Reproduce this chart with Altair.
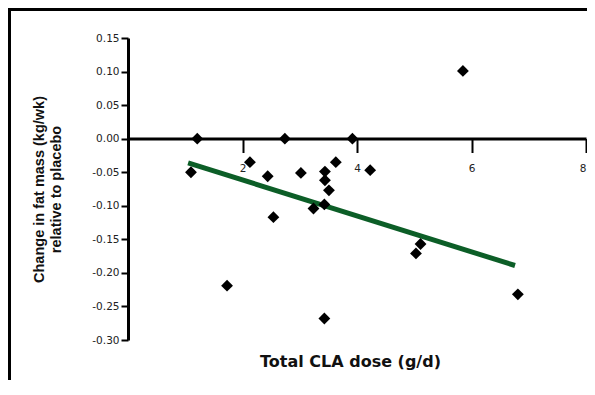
import altair as alt
import pandas as pd

# CLA dose (g/d) and change in fat mass relative to placebo (kg/wk)
dose = [1.10, 1.21, 1.73, 2.13, 2.44, 2.54, 2.74, 3.02, 3.24, 3.43,
        3.44, 3.44, 3.51, 3.43, 3.63, 3.92, 4.23, 5.03, 5.11, 5.85, 6.81]
change = [-0.050, 0.000, -0.219, -0.035, -0.056, -0.117, 0.000, -0.051, -0.104, -0.098,
          -0.049, -0.062, -0.077, -0.268, -0.035, 0.000, -0.047, -0.171, -0.157, 0.101, -0.232]

# regression line end points
fit_x = [1.05, 6.76]
fit_y = [-0.036, -0.189]

x_ticks = [2, 4, 6, 8]
y_ticks = [-0.30, -0.25, -0.20, -0.15, -0.10, -0.05, 0.00, 0.05, 0.10, 0.15]

pts = pd.DataFrame({"dose": dose, "change": change})
fit = pd.DataFrame({"dose": fit_x, "change": fit_y})

xscale = alt.Scale(domain=[0, 8], nice=False, zero=False)
yscale = alt.Scale(domain=[-0.30, 0.15], nice=False, zero=False)

xaxis = alt.Axis(
    values=x_ticks, tickCount=len(x_ticks), offset=-201.5, grid=False, format="d",
    labelOverlap=False,
    domainColor="black", domainWidth=3, tickColor="black", tickWidth=2, tickSize=14,
    labelFont="DejaVu Sans", labelFontSize=10.5, labelColor="#222", labelPadding=11,
    title="Total CLA dose (g/d)", titleFont="DejaVu Sans", titleFontSize=16,
    titleFontWeight="bold", titleColor="#111", titleBaseline="top",
    titleX=222, titleY=215, titleAlign="center",
)
yaxis = alt.Axis(
    values=y_ticks, tickCount=len(y_ticks), grid=False, labelOverlap=False, labelFlush=False,
    labelExpr="(datum.value < -0.001 ? '-' : '') + format(abs(datum.value), '.2f')",
    domainColor="black", domainWidth=3, tickColor="black", tickWidth=2, tickSize=7,
    labelFont="DejaVu Sans", labelFontSize=10.5, labelColor="#222", labelPadding=2,
    title=["Change in fat mass (kg/wk)", "relative to placebo"],
    titleFont="Liberation Sans", titleFontSize=14.5, titleFontWeight="bold",
    titleColor="#111", titleLineHeight=17, titlePadding=28,
)

points = alt.Chart(pts).mark_point(
    shape="diamond", filled=True, color="black", size=140, opacity=1
).encode(
    x=alt.X("dose:Q", scale=xscale, axis=xaxis),
    y=alt.Y("change:Q", scale=yscale, axis=yaxis),
)

line = alt.Chart(fit).mark_line(color="#0c5e27", strokeWidth=5, strokeCap="butt").encode(
    x=alt.X("dose:Q", scale=xscale),
    y=alt.Y("change:Q", scale=yscale),
)

frame_top = alt.Chart(pd.DataFrame({"a": [0]})).mark_rule(color="black", strokeWidth=3).encode(
    x=alt.value(-120), x2=alt.value(460), y=alt.value(-28.5)
)
frame_left = alt.Chart(pd.DataFrame({"a": [0]})).mark_rule(color="black", strokeWidth=3).encode(
    x=alt.value(-118.5), y=alt.value(-30), y2=alt.value(345)
)

chart = alt.layer(line, points, frame_top, frame_left).properties(
    width=458, height=302,
    padding={"left": 120, "top": 30, "right": 1, "bottom": 40},
    autosize=alt.AutoSizeParams(type="none"),
).configure_view(stroke=None)

chart.save("out.html", embed_options={"renderer": "svg", "actions": False})
